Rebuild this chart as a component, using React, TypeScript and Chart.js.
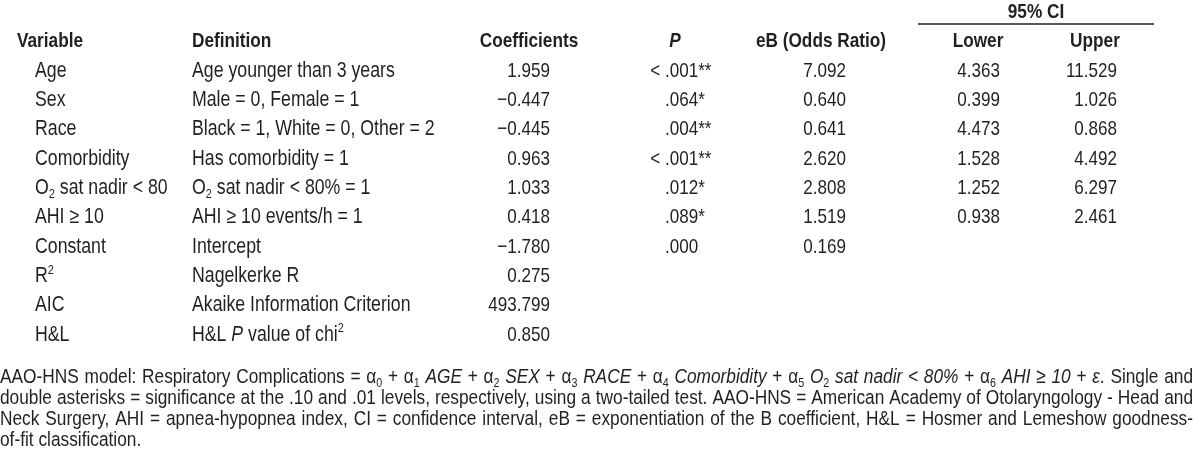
import React, { useEffect, useRef } from "react";
import { Chart, registerables } from "chart.js";

Chart.register(...registerables);

// ---------------- data ----------------
const variables = [
  "Age",
  "Sex",
  "Race",
  "Comorbidity",
  "O_{2} sat nadir < 80",
  "AHI ≥ 10",
  "Constant",
  "R^{2}",
  "AIC",
  "H&L",
];
const definitions = [
  "Age younger than 3 years",
  "Male = 0, Female = 1",
  "Black = 1, White = 0, Other = 2",
  "Has comorbidity = 1",
  "O_{2} sat nadir < 80% = 1",
  "AHI ≥ 10 events/h = 1",
  "Intercept",
  "Nagelkerke R",
  "Akaike Information Criterion",
  "H&L ~P~ value of chi^{2}",
];
const coefficients = [1.959, -0.447, -0.445, 0.963, 1.033, 0.418, -1.78, 0.275, 493.799, 0.85];
const pValues = ["< .001**", ".064*", ".004**", "< .001**", ".012*", ".089*", ".000"];
const oddsRatios = [7.092, 0.64, 0.641, 2.62, 2.808, 1.519, 0.169];
const ciLower = [4.363, 0.399, 4.473, 1.528, 1.252, 0.938];
const ciUpper = [11.529, 1.026, 0.868, 4.492, 6.297, 2.461];
const headers = ["Variable", "Definition", "Coefficients", "~P~", "eB (Odds Ratio)", "Lower", "Upper"];
const spanHeader = "95% CI";
const footnote = [
  "AAO-HNS model: Respiratory Complications = α_{0} + α_{1} ~AGE~ + α_{2} ~SEX~ + α_{3} ~RACE~ + α_{4} ~Comorbidity~ + α_{5} ~O~_{2}~ sat nadir < 80%~ + α_{6} ~AHI ≥ 10~ + ~ε~. Single and",
  "double asterisks = significance at the .10 and .01 levels, respectively, using a two-tailed test. AAO-HNS = American Academy of Otolaryngology - Head and",
  "Neck Surgery, AHI = apnea-hypopnea index, CI = confidence interval, eB = exponentiation of the B coefficient, H&L = Hosmer and Lemeshow goodness-",
  "of-fit classification.",
];

// ---------------- layout / style ----------------
const W = 1200;
const H = 462;
const FIRST_BASE = 76.5; // baseline of first body row
const ROW_H = 29.35;
const TEXT_SIZE = 21.6;
const NUM_SIZE = 20.8;
const HEAD_SIZE = 21;
const TEXT_COLOR = "#231f20";
const COL = {
  varHead: 17,
  varBody: 35,
  def: 192,
  coefHead: 529,
  coefBody: 550,
  pHead: 675,
  pBody: 665,
  orHead: 821,
  orBody: 846,
  loHead: 978,
  loBody: 1000,
  upHead: 1095,
  upBody: 1117,
  ciCenter: 1036,
  ruleFrom: 918,
  ruleTo: 1154,
};
const RULE_ROW = -1.79;
const FOOT_BASE = 383;
const FOOT_LINE_H = 21;
const FOOT_WIDTH = 1193;

const fmt = (v: number) => (v < 0 ? "\u2212" + Math.abs(v).toFixed(3) : v.toFixed(3));

type Run = { t: string; italic: boolean; mode: "n" | "sub" | "sup" };
function parse(s: string): Run[] {
  const runs: Run[] = [];
  let italic = false;
  let buf = "";
  let i = 0;
  const push = (t: string, mode: Run["mode"]) => {
    if (t) runs.push({ t, italic, mode });
  };
  while (i < s.length) {
    const c = s[i];
    if (c === "~") {
      push(buf, "n");
      buf = "";
      italic = !italic;
      i++;
      continue;
    }
    if ((c === "_" || c === "^") && s[i + 1] === "{") {
      push(buf, "n");
      buf = "";
      const j = s.indexOf("}", i);
      push(s.slice(i + 2, j), c === "_" ? "sub" : "sup");
      i = j + 1;
      continue;
    }
    buf += c;
    i++;
  }
  push(buf, "n");
  return runs;
}

let FAMILY = '"Liberation Sans Narrow"';
let HSCALE = 1;
function detectFont(ctx: CanvasRenderingContext2D) {
  const probe = "Variable abc 0123";
  ctx.font = "20px monospace";
  const a = ctx.measureText(probe).width;
  ctx.font = '20px "Liberation Sans Narrow", monospace';
  const b = ctx.measureText(probe).width;
  if (Math.abs(a - b) < 0.01) {
    FAMILY = '"Liberation Sans", Arial, sans-serif';
    HSCALE = 0.82;
  } else {
    FAMILY = '"Liberation Sans Narrow", "Arial Narrow", sans-serif';
    HSCALE = 1;
  }
}

function runFont(r: Run, size: number, bold: boolean) {
  const s = r.mode === "n" ? size : size * 0.62;
  return `${r.italic ? "italic " : ""}${bold ? "bold " : ""}${s}px ${FAMILY}`;
}

function measureRuns(ctx: CanvasRenderingContext2D, runs: Run[], size: number, bold: boolean) {
  let w = 0;
  for (const r of runs) {
    ctx.font = runFont(r, size, bold);
    w += ctx.measureText(r.t).width * HSCALE;
  }
  return w;
}

function drawRuns(
  ctx: CanvasRenderingContext2D,
  runs: Run[],
  x: number,
  y: number,
  size: number,
  bold: boolean,
  extraPerSpace = 0
) {
  let cx = x;
  for (const r of runs) {
    ctx.font = runFont(r, size, bold);
    const dy = r.mode === "sub" ? size * 0.2 : r.mode === "sup" ? -size * 0.38 : 0;
    const parts = extraPerSpace !== 0 && r.mode === "n" ? r.t.split(" ") : [r.t];
    parts.forEach((p, idx) => {
      const piece = idx < parts.length - 1 ? p + " " : p;
      ctx.save();
      ctx.translate(cx, y + dy);
      ctx.scale(HSCALE, 1);
      ctx.fillText(piece, 0, 0);
      ctx.restore();
      cx += ctx.measureText(piece).width * HSCALE;
      if (idx < parts.length - 1) cx += extraPerSpace;
    });
  }
}

function drawAligned(
  ctx: CanvasRenderingContext2D,
  text: string,
  x: number,
  y: number,
  align: string,
  size: number,
  bold: boolean
) {
  const runs = parse(text);
  const w = measureRuns(ctx, runs, size, bold);
  let sx = x;
  if (align === "right") sx = x - w;
  else if (align === "center") sx = x - w / 2;
  else if (align === "decimal") {
    const k = text.indexOf(".");
    const pre = k >= 0 ? text.slice(0, k) : "";
    sx = x - measureRuns(ctx, parse(pre), size, bold);
  }
  drawRuns(ctx, runs, sx, y, size, bold);
}

const tablePlugin = {
  id: "tableText",
  afterDatasetsDraw(chart: any) {
    const ctx: CanvasRenderingContext2D = chart.ctx;
    detectFont(ctx);
    ctx.save();
    ctx.fillStyle = TEXT_COLOR;
    ctx.textBaseline = "alphabetic";
    ctx.textAlign = "left";
    chart.data.datasets.forEach((ds: any, di: number) => {
      if (!ds.texts) return;
      const meta = chart.getDatasetMeta(di);
      meta.data.forEach((el: any, i: number) => {
        drawAligned(ctx, ds.texts[i], el.x, el.y, ds.textAlign, ds.textSize, !!ds.bold);
      });
    });
    // footnote (justified)
    const parsed = footnote.map(parse);
    const widest = Math.max(...parsed.map((r) => measureRuns(ctx, r, 20, false)));
    const fsize = (20 * (FOOT_WIDTH - 4)) / widest;
    parsed.forEach((runs, li) => {
      const y = FOOT_BASE + li * FOOT_LINE_H;
      const natural = measureRuns(ctx, runs, fsize, false);
      const justify = li < footnote.length - 1;
      let extra = 0;
      if (justify) {
        const spaces = runs.filter((r) => r.mode === "n").reduce((a, r) => a + (r.t.split(" ").length - 1), 0);
        extra = spaces ? (FOOT_WIDTH - natural) / spaces : 0;
      }
      drawRuns(ctx, runs, 0, y, fsize, false, extra);
    });
    ctx.restore();
  },
};

function column(values: string[], x: number, row0: number, textAlign: string, textSize: number, bold = false) {
  return {
    type: "scatter" as const,
    data: values.map((_, i) => ({ x, y: row0 + i })),
    texts: values,
    textAlign,
    textSize,
    bold,
    pointRadius: 0,
    pointHoverRadius: 0,
    showLine: false,
  };
}

export default function App() {
  const ref = useRef<HTMLCanvasElement>(null);
  useEffect(() => {
    if (!ref.current) return;
    const yMin = -FIRST_BASE / ROW_H;
    const yMax = yMin + H / ROW_H;
    const datasets: any[] = [
      // header row (row -1) and spanning header (row -2)
      column([headers[0]], COL.varHead, -1, "left", HEAD_SIZE, true),
      column([headers[1]], COL.def, -1, "left", HEAD_SIZE, true),
      column([headers[2]], COL.coefHead, -1, "center", HEAD_SIZE, true),
      column([headers[3]], COL.pHead, -1, "center", HEAD_SIZE, true),
      column([headers[4]], COL.orHead, -1, "center", HEAD_SIZE, true),
      column([headers[5]], COL.loHead, -1, "center", HEAD_SIZE, true),
      column([headers[6]], COL.upHead, -1, "center", HEAD_SIZE, true),
      column([spanHeader], COL.ciCenter, -2, "center", HEAD_SIZE, true),
      // body
      column(variables, COL.varBody, 0, "left", TEXT_SIZE),
      column(definitions, COL.def, 0, "left", TEXT_SIZE),
      column(coefficients.map(fmt), COL.coefBody, 0, "right", NUM_SIZE),
      column(pValues, COL.pBody, 0, "decimal", NUM_SIZE),
      column(oddsRatios.map(fmt), COL.orBody, 0, "right", NUM_SIZE),
      column(ciLower.map(fmt), COL.loBody, 0, "right", NUM_SIZE),
      column(ciUpper.map(fmt), COL.upBody, 0, "right", NUM_SIZE),
      // rule under "95% CI"
      {
        type: "scatter",
        data: [
          { x: COL.ruleFrom, y: RULE_ROW },
          { x: COL.ruleTo, y: RULE_ROW },
        ],
        showLine: true,
        borderColor: TEXT_COLOR,
        borderWidth: 1.6,
        pointRadius: 0,
        pointHoverRadius: 0,
      },
    ];
    const chart = new Chart(ref.current, {
      type: "scatter",
      data: { datasets },
      options: {
        animation: false,
        responsive: false,
        devicePixelRatio: 1,
        layout: { padding: 0 },
        events: [],
        plugins: { legend: { display: false }, tooltip: { enabled: false } },
        scales: {
          x: { type: "linear", min: 0, max: W, display: false },
          y: { type: "linear", min: yMin, max: yMax, reverse: true, display: false },
        },
      },
      plugins: [tablePlugin],
    });
    return () => chart.destroy();
  }, []);
  return (
    <div style={{ position: "fixed", left: 0, top: 0, width: W, height: H, background: "#fff" }}>
      <canvas ref={ref} width={W} height={H} style={{ display: "block", width: W, height: H }} />
    </div>
  );
}
